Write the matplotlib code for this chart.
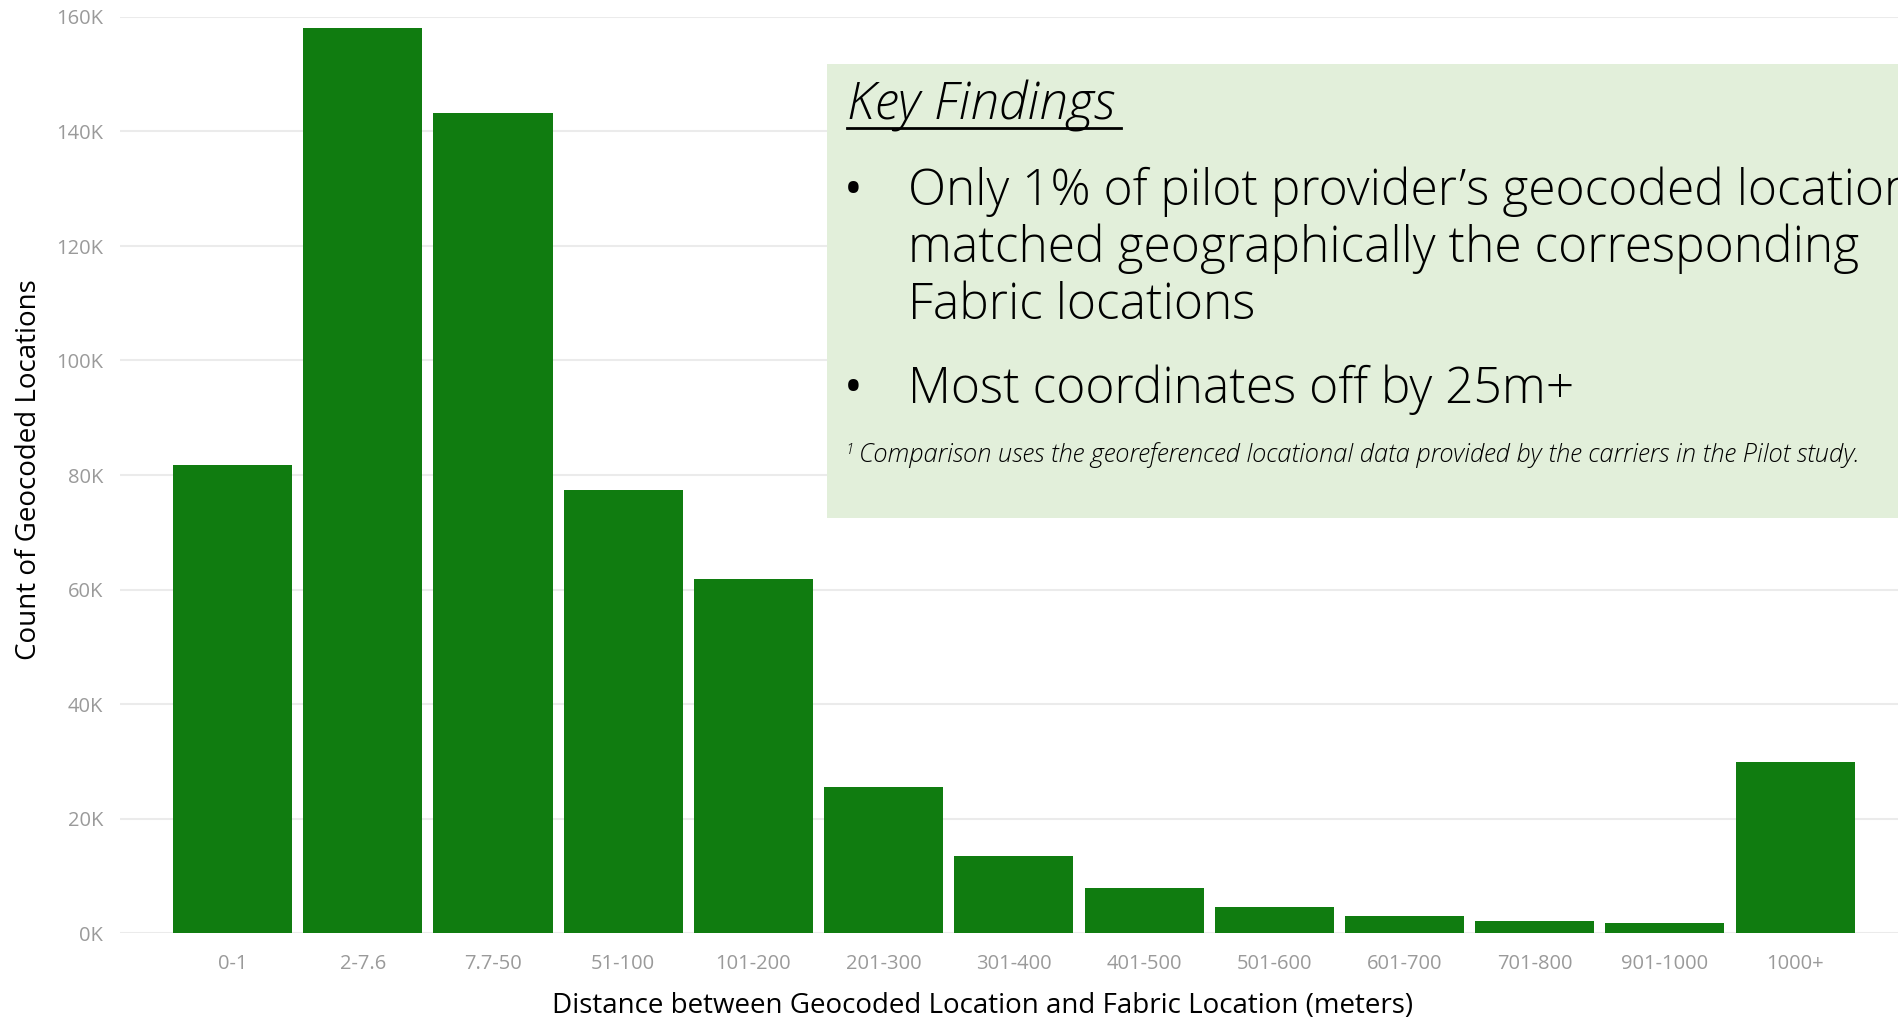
import matplotlib.pyplot as plt
from matplotlib.patches import Rectangle
from matplotlib.lines import Line2D
from matplotlib.ticker import FuncFormatter

# data
categories = ["0-1", "2-7.6", "7.7-50", "51-100", "101-200", "201-300", "301-400",
              "401-500", "501-600", "601-700", "701-800", "901-1000", "1000+"]
counts = [81700, 158000, 143200, 77400, 61900, 25500, 13500,
          7800, 4600, 3000, 2150, 1750, 29900]
y_ticks = [0, 20000, 40000, 60000, 80000, 100000, 120000, 140000, 160000]

title_text = "Key Findings"
bullet_lines = [
    ["Only 1% of pilot provider\u2019s geocoded locations",
     "matched geographically the corresponding",
     "Fabric locations"],
    ["Most coordinates off by 25m+"],
]
footnote = "Comparison uses the georeferenced locational data provided by the carriers in the Pilot study."

W, H = 1898, 1021
bar_color = "#107c10"
grey = "#9a9a9a"

plt.rcParams["font.family"] = ["Open Sans", "DejaVu Sans"]

fig = plt.figure(figsize=(W / 100, H / 100), dpi=100)
ax = fig.add_axes([120 / W, (H - 933) / H, (W - 120) / W, (933 - 17) / H])

x = list(range(len(categories)))
ax.bar(x, counts, width=0.915, color=bar_color, zorder=2)

ax.set_xlim(-0.865, 12.79)
ax.set_ylim(0, 160000)
ax.set_yticks(y_ticks)
ax.yaxis.set_major_formatter(FuncFormatter(lambda v, p: f"{int(v / 1000)}K"))
ax.set_xticks(x)
ax.set_xticklabels(categories)
ax.grid(axis="y", color="#ebebeb", linewidth=1.5, zorder=0)
ax.tick_params(axis="both", length=0, labelsize=14.5, labelcolor=grey)
ax.tick_params(axis="x", pad=15)
ax.tick_params(axis="y", pad=12)
for s in ax.spines.values():
    s.set_visible(False)


def px(xp, yp):
    return xp / W, 1 - yp / H


fig.text(*px(983, 1006), "Distance between Geocoded Location and Fabric Location (meters)",
         ha="center", va="center", fontsize=20, color="black")
fig.text(*px(29, 470), "Count of Geocoded Locations", rotation=90,
         ha="center", va="center", fontsize=20, color="black")

# key findings box
fig.patches.append(Rectangle(px(827, 518), (W - 827) / W, (518 - 64) / H,
                             transform=fig.transFigure, facecolor="#e2efda",
                             edgecolor="none", zorder=3))
fig.text(*px(847, 120), title_text, ha="left", va="baseline", fontsize=37,
         style="italic", fontweight="light", color="black", zorder=4)
fig.lines.append(Line2D([847 / W, 1121 / W], [1 - 128 / H, 1 - 128 / H],
                        transform=fig.transFigure, color="black", linewidth=2, zorder=4))

bullet_y = [205, 403]
line_step = 57
for by, lines in zip(bullet_y, bullet_lines):
    fig.text(*px(853, by), "\u2022", ha="center", va="baseline", fontsize=36, zorder=4)
    for i, txt in enumerate(lines):
        fig.text(*px(908, by + i * line_step), txt, ha="left", va="baseline",
                 fontsize=35.8, fontweight="light", zorder=4)

fig.text(*px(845, 454), "1", ha="left", va="baseline", fontsize=11,
         style="italic", fontweight="light", zorder=4)
fig.text(*px(859, 462), footnote, ha="left", va="baseline", fontsize=18.4,
         style="italic", fontweight="light", zorder=4)

fig.savefig("out.png", dpi=100)
